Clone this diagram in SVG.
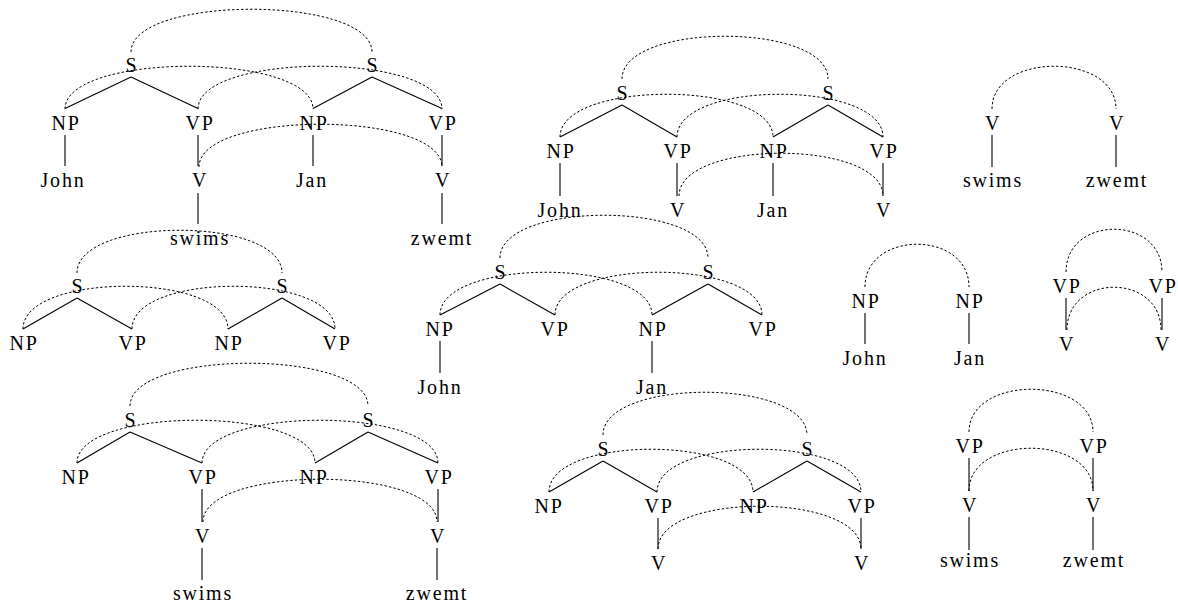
<svg xmlns="http://www.w3.org/2000/svg" width="1178" height="605" viewBox="0 0 1178 605">
<style>
text{font-family:"Liberation Serif","Times New Roman",serif;font-size:20px;fill:#000;text-anchor:middle;letter-spacing:1.8px}
.e{stroke:#000;stroke-width:1.1;fill:none}
.a{stroke:#000;stroke-width:1;fill:none;stroke-dasharray:2.5 2}
</style>
<rect width="1178" height="605" fill="#fff"/>
<g id="connectors">
<!-- tree 1 -->
<path class="e" d="M131 77L65 108.5M131 77L198 108.5M372 77L313 108.5M372 77L442 108.5M65 135V166M198 135V166M313 135V166M442 135V166M198 193V224M442 193V224"/>
<path class="a" d="M131 52C131 -5 372 -5 372 52"/>
<path class="a" d="M65 109C65 52 313 52 313 109"/>
<path class="a" d="M198 109C198 52 442 52 442 109"/>
<path class="a" d="M199 167C199 110 442 110 442 167"/>
<!-- tree 2 -->
<path class="e" d="M77 298L23 329M77 298L132 329M282 298L228 329M282 298L335 329"/>
<path class="a" d="M77 273C77 216 282 216 282 273"/>
<path class="a" d="M23 329C23 272 228 272 228 329"/>
<path class="a" d="M132 329C132 272 335 272 335 329"/>
<!-- tree 3 -->
<path class="e" d="M622 105L560 137M622 105L677 137M828 105L773 137M828 105L883 137M560 163V196M677 163V196M773 163V196M883 163V196"/>
<path class="a" d="M622 79C622 22 828 22 828 79"/>
<path class="a" d="M560 137C560 80 773 80 773 137"/>
<path class="a" d="M677 137C677 80 883 80 883 137"/>
<path class="a" d="M679 196C679 139 883 139 883 196"/>
<!-- tree 4 -->
<path class="e" d="M500 284L440 315M500 284L555 315M708 284L652 315M708 284L762 315M440 341V373M652 341V373"/>
<path class="a" d="M500 258C500 201 708 201 708 258"/>
<path class="a" d="M440 315C440 258 652 258 652 315"/>
<path class="a" d="M555 315C555 258 762 258 762 315"/>
<!-- tree 5 -->
<path class="e" d="M130 432L77 463M130 432L202 463M368 432L315 463M368 432L438 463M202 489V522M438 489V522M202 548V580M437 548V580"/>
<path class="a" d="M130 406C130 349 368 349 368 406"/>
<path class="a" d="M77 463C77 406 315 406 315 463"/>
<path class="a" d="M202 463C202 406 438 406 438 463"/>
<path class="a" d="M203 522C203 465 437 465 437 522"/>
<!-- tree 6 -->
<path class="e" d="M603 461L549 492M603 461L657 492M807 461L753 492M807 461L861 492M658 518V549M861 518V549"/>
<path class="a" d="M603 435C603 378 807 378 807 435"/>
<path class="a" d="M549 492C549 435 753 435 753 492"/>
<path class="a" d="M657 492C657 435 861 435 861 492"/>
<path class="a" d="M658 549C658 492 861 492 861 549"/>
<!-- tree 7 -->
<path class="e" d="M992 135V167M1116 135V167"/>
<path class="a" d="M992 109C992 52 1116 52 1116 109"/>
<!-- tree 8 -->
<path class="e" d="M865 313V344M969 313V344M1066 298V330M1162 298V330"/>
<path class="a" d="M865 287C865 230 969 230 969 287"/>
<path class="a" d="M1066 272C1066 215 1162 215 1162 272"/>
<path class="a" d="M1067 330C1067 273 1161 273 1161 330"/>
<!-- tree 9 -->
<path class="e" d="M969 458V491M1093 458V491M969 517V550M1093 517V550"/>
<path class="a" d="M969 432C969 375 1093 375 1093 432"/>
<path class="a" d="M969 491C969 434 1093 434 1093 491"/>
</g>
<!-- tree 1 nodes -->
<g id="t1-S1"><text x="132" y="72">S</text></g>
<g id="t1-S2"><text x="373" y="72">S</text></g>
<g id="t1-NP1"><text x="66" y="129.5">NP</text></g>
<g id="t1-VP1"><text x="200" y="129.5">VP</text></g>
<g id="t1-NP2"><text x="314" y="129.5">NP</text></g>
<g id="t1-VP2"><text x="443" y="129.5">VP</text></g>
<g id="t1-John"><text x="63" y="187">John</text></g>
<g id="t1-V1"><text x="200" y="187">V</text></g>
<g id="t1-Jan"><text x="312" y="187">Jan</text></g>
<g id="t1-V2"><text x="443" y="187">V</text></g>
<g id="t1-swims"><text x="200" y="245">swims</text></g>
<g id="t1-zwemt"><text x="442" y="245">zwemt</text></g>
<!-- tree 2 nodes -->
<g id="t2-S1"><text x="78" y="293">S</text></g>
<g id="t2-S2"><text x="283" y="293">S</text></g>
<g id="t2-NP1"><text x="24" y="350">NP</text></g>
<g id="t2-VP1"><text x="133" y="350">VP</text></g>
<g id="t2-NP2"><text x="229" y="350">NP</text></g>
<g id="t2-VP2"><text x="337" y="350">VP</text></g>
<!-- tree 3 nodes -->
<g id="t3-S1"><text x="623" y="100">S</text></g>
<g id="t3-S2"><text x="829" y="100">S</text></g>
<g id="t3-NP1"><text x="561" y="158">NP</text></g>
<g id="t3-VP1"><text x="678" y="158">VP</text></g>
<g id="t3-NP2"><text x="774" y="158">NP</text></g>
<g id="t3-VP2"><text x="884" y="158">VP</text></g>
<g id="t3-John"><text x="560" y="217">John</text></g>
<g id="t3-V1"><text x="678" y="217">V</text></g>
<g id="t3-Jan"><text x="773" y="217">Jan</text></g>
<g id="t3-V2"><text x="884" y="217">V</text></g>
<!-- tree 4 nodes -->
<g id="t4-S1"><text x="501" y="279">S</text></g>
<g id="t4-S2"><text x="709" y="279">S</text></g>
<g id="t4-NP1"><text x="440" y="336">NP</text></g>
<g id="t4-VP1"><text x="555" y="336">VP</text></g>
<g id="t4-NP2"><text x="653" y="336">NP</text></g>
<g id="t4-VP2"><text x="763" y="336">VP</text></g>
<g id="t4-John"><text x="440" y="394">John</text></g>
<g id="t4-Jan"><text x="652" y="394">Jan</text></g>
<!-- tree 5 nodes -->
<g id="t5-S1"><text x="131" y="427">S</text></g>
<g id="t5-S2"><text x="369" y="427">S</text></g>
<g id="t5-NP1"><text x="76" y="484">NP</text></g>
<g id="t5-VP1"><text x="203" y="484">VP</text></g>
<g id="t5-NP2"><text x="314" y="484">NP</text></g>
<g id="t5-VP2"><text x="439" y="484">VP</text></g>
<g id="t5-V1"><text x="203" y="543">V</text></g>
<g id="t5-V2"><text x="438" y="543">V</text></g>
<g id="t5-swims"><text x="203" y="600">swims</text></g>
<g id="t5-zwemt"><text x="437" y="600">zwemt</text></g>
<!-- tree 6 nodes -->
<g id="t6-S1"><text x="604" y="456">S</text></g>
<g id="t6-S2"><text x="808" y="456">S</text></g>
<g id="t6-NP1"><text x="549" y="513">NP</text></g>
<g id="t6-VP1"><text x="659" y="513">VP</text></g>
<g id="t6-NP2"><text x="754" y="513">NP</text></g>
<g id="t6-VP2"><text x="862" y="513">VP</text></g>
<g id="t6-V1"><text x="659" y="570">V</text></g>
<g id="t6-V2"><text x="862" y="570">V</text></g>
<!-- tree 7 nodes -->
<g id="t7-V1"><text x="993" y="130">V</text></g>
<g id="t7-V2"><text x="1117" y="130">V</text></g>
<g id="t7-swims"><text x="993" y="187">swims</text></g>
<g id="t7-zwemt"><text x="1117" y="187">zwemt</text></g>
<!-- tree 8 nodes -->
<g id="t8-NP1"><text x="866" y="308">NP</text></g>
<g id="t8-NP2"><text x="970" y="308">NP</text></g>
<g id="t8-John"><text x="865" y="365">John</text></g>
<g id="t8-Jan"><text x="970" y="365">Jan</text></g>
<g id="t8-VP1"><text x="1067" y="293">VP</text></g>
<g id="t8-VP2"><text x="1163" y="293">VP</text></g>
<g id="t8-V1"><text x="1067" y="351">V</text></g>
<g id="t8-V2"><text x="1163" y="351">V</text></g>
<!-- tree 9 nodes -->
<g id="t9-VP1"><text x="970" y="453">VP</text></g>
<g id="t9-VP2"><text x="1094" y="453">VP</text></g>
<g id="t9-V1"><text x="970" y="512">V</text></g>
<g id="t9-V2"><text x="1094" y="512">V</text></g>
<g id="t9-swims"><text x="970" y="567">swims</text></g>
<g id="t9-zwemt"><text x="1094" y="567">zwemt</text></g>
</svg>
